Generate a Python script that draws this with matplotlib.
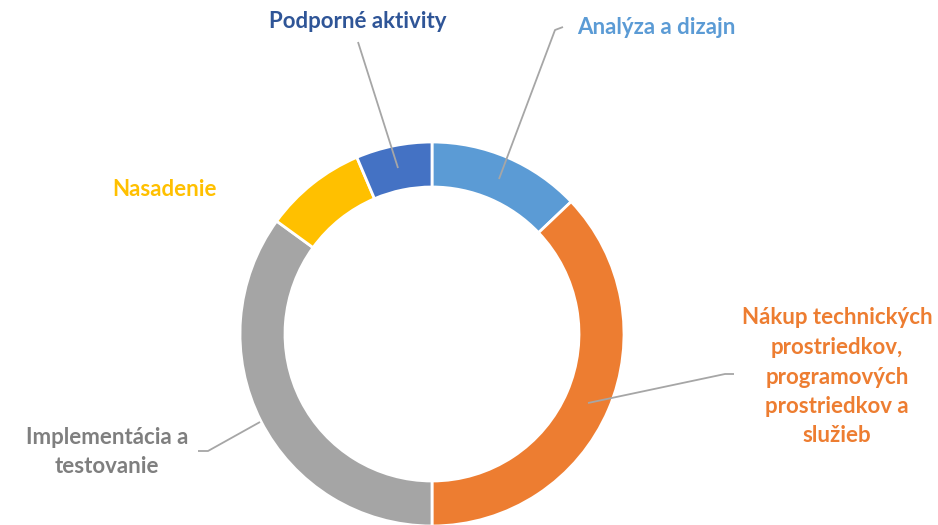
import matplotlib.pyplot as plt

categories = ["Analýza a dizajn",
              "Nákup technických\nprostriedkov,\nprogramových\nprostriedkov a\nslužieb",
              "Implementácia a\ntestovanie",
              "Nasadenie",
              "Podporné aktivity"]
values = [12.9, 37.1, 35.0, 8.6, 6.4]
slice_colors = ["#5B9BD5", "#ED7D31", "#A5A5A5", "#FFC000", "#4472C4"]
text_colors = ["#5B9BD5", "#ED7D31", "#7F7F7F", "#FFC000", "#2F5597"]

W, H = 938, 525

def px(x, y):
    # pixel position (top-left origin) -> data coords
    return x, H - y

fig = plt.figure(figsize=(W / 100, H / 100), dpi=100)
ax = fig.add_axes([0, 0, 1, 1])
ax.set_xlim(0, W)
ax.set_ylim(0, H)
ax.set_aspect("equal")
ax.axis("off")

ax.pie(values, colors=slice_colors, startangle=90, counterclock=False,
       radius=192, center=px(432, 334),
       wedgeprops=dict(width=45, edgecolor="white", linewidth=2))
ax.set_xlim(0, W)
ax.set_ylim(0, H)

font = dict(family="Lato", fontweight="bold", fontsize=16)

# label position, alignment, leader line points
labels = [
    (px(577, 27), "left", [px(499, 179), px(555, 30), px(563, 27)]),
    (px(837, 377), "center", [px(588, 403), px(725, 374), px(734, 374)]),
    (px(107, 452), "center", [px(260, 422), px(208, 451), px(198, 451)]),
    (px(165, 190), "center", None),
    (px(358, 22), "center", [px(398, 168), px(358, 42)]),
]

for (pos, ha, line), text, col in zip(labels, categories, text_colors):
    if line:
        xs = [p[0] for p in line]
        ys = [p[1] for p in line]
        ax.plot(xs, ys, color="#A6A6A6", lw=1.3, solid_capstyle="butt")
    ax.text(pos[0], pos[1], text, color=col, ha=ha, va="center",
            multialignment="center", linespacing=1.5, **font)

fig.savefig("out.png", dpi=100)
